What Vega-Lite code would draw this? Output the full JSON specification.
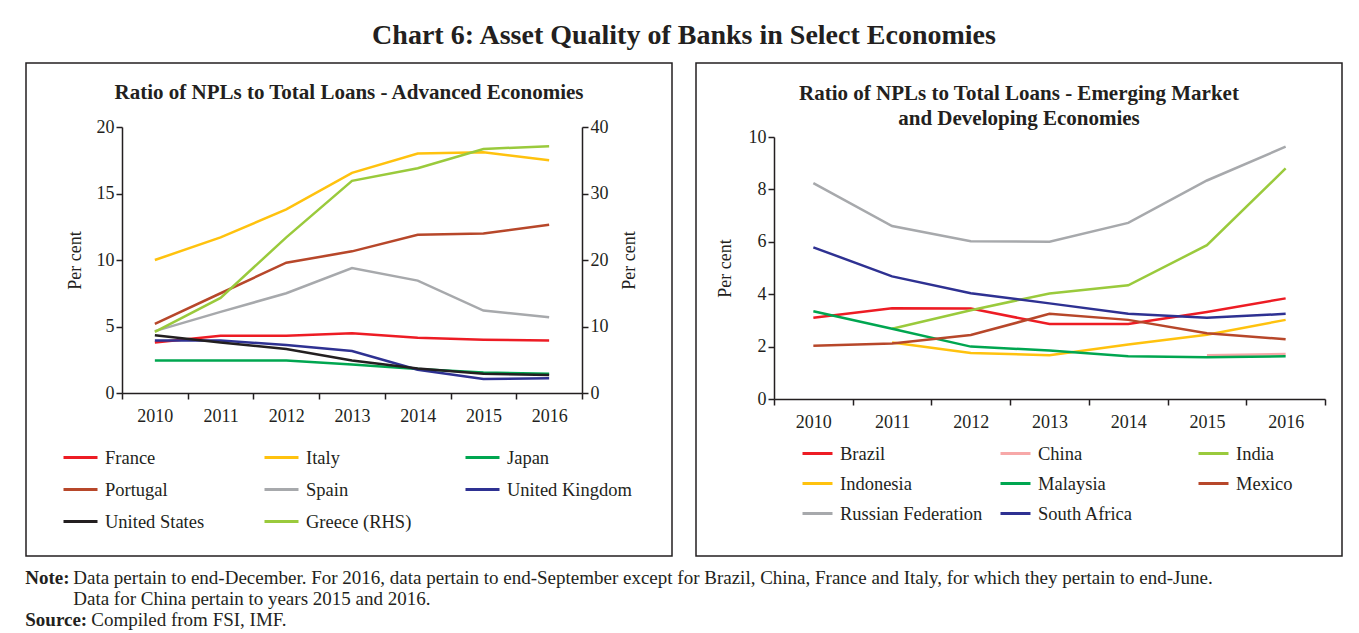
{
  "$schema": "https://vega.github.io/schema/vega-lite/v6.json",
  "background": "white",
  "padding": {"left": 25, "top": 22, "right": 10, "bottom": 5},
  "config": {
    "font": "Liberation Serif",
    "axis": {"labelFont": "Liberation Serif", "labelFontSize": 18, "labelColor": "#231F20", "domainColor": "#231F20", "tickColor": "#231F20", "domainWidth": 1.5, "tickWidth": 1.5, "tickSize": 6, "grid": false, "titleFont": "Liberation Serif", "titleFontSize": 18, "titleFontWeight": "normal", "titleColor": "#231F20"},
    "legend": {"labelFont": "Liberation Serif", "labelFontSize": 18.5, "labelColor": "#231F20"},
    "title": {"font": "Liberation Serif", "color": "#231F20", "subtitleFont": "Liberation Serif", "subtitleColor": "#231F20"},
    "view": {"stroke": "#231F20", "strokeWidth": 1.5},
    "concat": {"spacing": 22}
  },
  "title": {"text": "Chart 6: Asset Quality of Banks in Select Economies", "fontSize": 28, "fontWeight": "bold", "anchor": "middle", "offset": 12},
  "vconcat": [
    {
      "title": {"text": "Note:", "subtitle": "Source:", "orient": "bottom", "anchor": "start", "fontSize": 19, "fontWeight": "bold", "subtitleFontSize": 19, "subtitleFontWeight": "bold", "subtitlePadding": 23, "offset": -61},
      "vconcat": [
        {
          "title": {"text": "Compiled from FSI, IMF.", "orient": "bottom", "anchor": "start", "fontSize": 19, "fontWeight": "normal", "dx": 66, "offset": 2},
          "vconcat": [
            {
              "title": {"text": ["Data pertain to end-December. For 2016, data pertain to end-September except for Brazil, China, France and Italy, for which they pertain to end-June.", "Data for China pertain to years 2015 and 2016."], "orient": "bottom", "anchor": "start", "fontSize": 19, "fontWeight": "normal", "lineHeight": 21, "dx": 48, "offset": 12},
              "hconcat": [
                {
                  "width": 646,
                  "height": 493,
                  "title": {"text": "Ratio of NPLs to Total Loans - Advanced Economies", "fontSize": 21, "fontWeight": "bold", "anchor": "middle", "offset": -40},
                  "data": {"values": [
                    {"country": "France", "year": "2010", "value": 3.8},
                    {"country": "France", "year": "2011", "value": 4.3},
                    {"country": "France", "year": "2012", "value": 4.3},
                    {"country": "France", "year": "2013", "value": 4.5},
                    {"country": "France", "year": "2014", "value": 4.15},
                    {"country": "France", "year": "2015", "value": 4.0},
                    {"country": "France", "year": "2016", "value": 3.95},
                    {"country": "Italy", "year": "2010", "value": 10.0},
                    {"country": "Italy", "year": "2011", "value": 11.7},
                    {"country": "Italy", "year": "2012", "value": 13.8},
                    {"country": "Italy", "year": "2013", "value": 16.55},
                    {"country": "Italy", "year": "2014", "value": 18.0},
                    {"country": "Italy", "year": "2015", "value": 18.1},
                    {"country": "Italy", "year": "2016", "value": 17.5},
                    {"country": "Japan", "year": "2010", "value": 2.45},
                    {"country": "Japan", "year": "2011", "value": 2.45},
                    {"country": "Japan", "year": "2012", "value": 2.45},
                    {"country": "Japan", "year": "2013", "value": 2.15},
                    {"country": "Japan", "year": "2014", "value": 1.8},
                    {"country": "Japan", "year": "2015", "value": 1.55},
                    {"country": "Japan", "year": "2016", "value": 1.45},
                    {"country": "Portugal", "year": "2010", "value": 5.2},
                    {"country": "Portugal", "year": "2011", "value": 7.5},
                    {"country": "Portugal", "year": "2012", "value": 9.8},
                    {"country": "Portugal", "year": "2013", "value": 10.65},
                    {"country": "Portugal", "year": "2014", "value": 11.9},
                    {"country": "Portugal", "year": "2015", "value": 12.0},
                    {"country": "Portugal", "year": "2016", "value": 12.65},
                    {"country": "Spain", "year": "2010", "value": 4.65},
                    {"country": "Spain", "year": "2011", "value": 6.1},
                    {"country": "Spain", "year": "2012", "value": 7.5},
                    {"country": "Spain", "year": "2013", "value": 9.4},
                    {"country": "Spain", "year": "2014", "value": 8.45},
                    {"country": "Spain", "year": "2015", "value": 6.2},
                    {"country": "Spain", "year": "2016", "value": 5.7},
                    {"country": "United Kingdom", "year": "2010", "value": 3.95},
                    {"country": "United Kingdom", "year": "2011", "value": 3.95},
                    {"country": "United Kingdom", "year": "2012", "value": 3.6},
                    {"country": "United Kingdom", "year": "2013", "value": 3.15},
                    {"country": "United Kingdom", "year": "2014", "value": 1.75},
                    {"country": "United Kingdom", "year": "2015", "value": 1.05},
                    {"country": "United Kingdom", "year": "2016", "value": 1.1},
                    {"country": "United States", "year": "2010", "value": 4.35},
                    {"country": "United States", "year": "2011", "value": 3.8},
                    {"country": "United States", "year": "2012", "value": 3.3},
                    {"country": "United States", "year": "2013", "value": 2.45},
                    {"country": "United States", "year": "2014", "value": 1.85},
                    {"country": "United States", "year": "2015", "value": 1.45},
                    {"country": "United States", "year": "2016", "value": 1.35},
                    {"country": "Greece (RHS)", "year": "2010", "value": 9.2},
                    {"country": "Greece (RHS)", "year": "2011", "value": 14.3},
                    {"country": "Greece (RHS)", "year": "2012", "value": 23.4},
                    {"country": "Greece (RHS)", "year": "2013", "value": 31.9},
                    {"country": "Greece (RHS)", "year": "2014", "value": 33.8},
                    {"country": "Greece (RHS)", "year": "2015", "value": 36.7},
                    {"country": "Greece (RHS)", "year": "2016", "value": 37.1}
                  ]},
                  "encoding": {
                    "x": {"field": "year", "type": "ordinal", "scale": {"type": "band", "range": [96, 556], "paddingInner": 0, "paddingOuter": 0}, "axis": {"title": null, "labelAngle": 0, "tickBand": "extent", "offset": -163, "labelPadding": 8}},
                    "color": {"field": "country", "type": "nominal",
                      "scale": {"domain": ["France", "Italy", "Japan", "Portugal", "Spain", "United Kingdom", "United States", "Greece (RHS)"], "range": ["#ED1C24", "#FFC20E", "#00A650", "#B7472A", "#A7A9AC", "#2E3192", "#231F20", "#9ACA3C"]},
                      "legend": {"title": null, "orient": "none", "direction": "horizontal", "legendX": 36, "legendY": 376, "columns": 3, "gridAlign": "all", "columnPadding": 28, "rowPadding": 4, "symbolType": "stroke", "symbolSize": 1156, "symbolStrokeWidth": 3, "labelOffset": 6}}
                  },
                  "layer": [
                    {
                      "transform": [{"filter": "datum.country != 'Greece (RHS)'"}],
                      "mark": {"type": "line", "strokeWidth": 2.5},
                      "encoding": {
                        "y": {"field": "value", "type": "quantitative", "scale": {"domain": [0, 20], "range": [330, 64]}, "axis": {"title": "Per cent", "values": [0, 5, 10, 15, 20], "offset": -96, "titlePadding": 12}}
                      }
                    },
                    {
                      "transform": [{"filter": "datum.country == 'Greece (RHS)'"}],
                      "mark": {"type": "line", "strokeWidth": 2.5},
                      "encoding": {
                        "y": {"field": "value", "type": "quantitative", "scale": {"domain": [0, 40], "range": [330, 64]}, "axis": {"title": "Per cent", "orient": "right", "titleAngle": 270, "titleBaseline": "top", "values": [0, 10, 20, 30, 40], "offset": -90, "titlePadding": 12}}
                      }
                    }
                  ],
                  "resolve": {"scale": {"y": "independent"}, "axis": {"y": "independent"}}
                },
                {
                  "width": 646,
                  "height": 493,
                  "title": {"text": ["Ratio of NPLs to Total Loans - Emerging Market", "and Developing Economies"], "fontSize": 21, "fontWeight": "bold", "anchor": "middle", "offset": -66, "lineHeight": 25},
                  "data": {"values": [
                    {"country": "Brazil", "year": "2010", "value": 3.1},
                    {"country": "Brazil", "year": "2011", "value": 3.46},
                    {"country": "Brazil", "year": "2012", "value": 3.45},
                    {"country": "Brazil", "year": "2013", "value": 2.86},
                    {"country": "Brazil", "year": "2014", "value": 2.86},
                    {"country": "Brazil", "year": "2015", "value": 3.32},
                    {"country": "Brazil", "year": "2016", "value": 3.84},
                    {"country": "China", "year": "2015", "value": 1.67},
                    {"country": "China", "year": "2016", "value": 1.72},
                    {"country": "India", "year": "2011", "value": 2.68},
                    {"country": "India", "year": "2012", "value": 3.39},
                    {"country": "India", "year": "2013", "value": 4.03},
                    {"country": "India", "year": "2014", "value": 4.34},
                    {"country": "India", "year": "2015", "value": 5.87},
                    {"country": "India", "year": "2016", "value": 8.8},
                    {"country": "Indonesia", "year": "2011", "value": 2.16},
                    {"country": "Indonesia", "year": "2012", "value": 1.76},
                    {"country": "Indonesia", "year": "2013", "value": 1.67},
                    {"country": "Indonesia", "year": "2014", "value": 2.08},
                    {"country": "Indonesia", "year": "2015", "value": 2.45},
                    {"country": "Indonesia", "year": "2016", "value": 3.02},
                    {"country": "Malaysia", "year": "2010", "value": 3.35},
                    {"country": "Malaysia", "year": "2011", "value": 2.68},
                    {"country": "Malaysia", "year": "2012", "value": 2.0},
                    {"country": "Malaysia", "year": "2013", "value": 1.85},
                    {"country": "Malaysia", "year": "2014", "value": 1.63},
                    {"country": "Malaysia", "year": "2015", "value": 1.59},
                    {"country": "Malaysia", "year": "2016", "value": 1.63},
                    {"country": "Mexico", "year": "2010", "value": 2.03},
                    {"country": "Mexico", "year": "2011", "value": 2.12},
                    {"country": "Mexico", "year": "2012", "value": 2.44},
                    {"country": "Mexico", "year": "2013", "value": 3.25},
                    {"country": "Mexico", "year": "2014", "value": 3.02},
                    {"country": "Mexico", "year": "2015", "value": 2.51},
                    {"country": "Mexico", "year": "2016", "value": 2.28},
                    {"country": "Russian Federation", "year": "2010", "value": 8.24},
                    {"country": "Russian Federation", "year": "2011", "value": 6.6},
                    {"country": "Russian Federation", "year": "2012", "value": 6.02},
                    {"country": "Russian Federation", "year": "2013", "value": 6.0},
                    {"country": "Russian Federation", "year": "2014", "value": 6.72},
                    {"country": "Russian Federation", "year": "2015", "value": 8.34},
                    {"country": "Russian Federation", "year": "2016", "value": 9.63},
                    {"country": "South Africa", "year": "2010", "value": 5.79},
                    {"country": "South Africa", "year": "2011", "value": 4.68},
                    {"country": "South Africa", "year": "2012", "value": 4.04},
                    {"country": "South Africa", "year": "2013", "value": 3.65},
                    {"country": "South Africa", "year": "2014", "value": 3.25},
                    {"country": "South Africa", "year": "2015", "value": 3.1},
                    {"country": "South Africa", "year": "2016", "value": 3.25}
                  ]},
                  "mark": {"type": "line", "strokeWidth": 2.5},
                  "encoding": {
                    "x": {"field": "year", "type": "ordinal", "scale": {"type": "band", "range": [78, 629], "paddingInner": 0, "paddingOuter": 0}, "axis": {"title": null, "labelAngle": 0, "tickBand": "extent", "offset": -157, "labelPadding": 8}},
                    "y": {"field": "value", "type": "quantitative", "scale": {"domain": [0, 10], "range": [336, 74]}, "axis": {"title": "Per cent", "values": [0, 2, 4, 6, 8, 10], "offset": -78, "titlePadding": 14}},
                    "color": {"field": "country", "type": "nominal",
                      "scale": {"domain": ["Brazil", "China", "India", "Indonesia", "Malaysia", "Mexico", "Russian Federation", "South Africa"], "range": ["#ED1C24", "#F7A8A8", "#9ACA3C", "#FFC20E", "#00A650", "#B7472A", "#A7A9AC", "#2E3192"]},
                      "legend": {"title": null, "orient": "none", "direction": "horizontal", "legendX": 105, "legendY": 374, "columns": 3, "gridAlign": "all", "columnPadding": 11, "rowPadding": 4, "symbolType": "stroke", "symbolSize": 900, "symbolStrokeWidth": 3, "labelOffset": 6}}
                  }
                }
              ],
              "resolve": {"scale": {"color": "independent"}, "legend": {"color": "independent"}}
            }
          ]
        }
      ]
    }
  ]
}
